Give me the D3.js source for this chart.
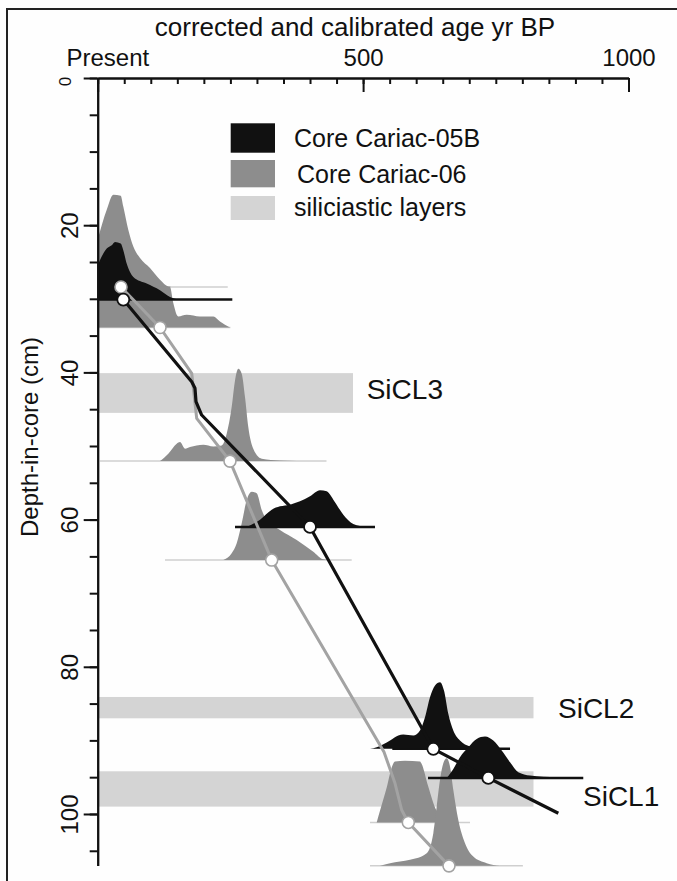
<!DOCTYPE html>
<html><head><meta charset="utf-8">
<script src="https://cdn.jsdelivr.net/npm/d3@7"></script>
<style>html,body{margin:0;padding:0;background:#fff}</style>
</head><body>
<svg id="c" width="677" height="881"></svg>
<script>
// ---------- data ----------
const ageTicksMajor = [0, 500, 1000];
const ageTickLabels = ["Present", "500", "1000"];
const ageTicksMinor = d3.range(0, 1001, 50);
const depthTicksMajor = [0, 20, 40, 60, 80, 100];
const depthTicksMinor = d3.range(0, 106, 5);

// siliciclastic layers (depth cm, age extent)
const layerNames = ["SiCL3", "SiCL2", "SiCL1"];
const layerTop = [40.1, 84.1, 94.2];
const layerBottom = [45.5, 87.0, 99.0];
const layerAgeEnd = [481, 821, 821];

// dated samples (median calibrated age, depth)
const ages05B = [48.2, 400, 632.3, 735.9];
const depths05B = [30.1, 61.0, 91.15, 95.1];
const ages06 = [43.9, 117.4, 249.2, 327.8, 585.2, 661.8];
const depths06 = [28.4, 33.9, 52.05, 65.5, 101.15, 107.05];

// age-depth models
const model05BAges = [48.2, 177.1, 183.3, 185.2, 195.9, 400, 632.3, 735.9, 867.8];
const model05BDepths = [30.1, 41.26, 42.16, 43.98, 45.79, 61.0, 91.15, 95.1, 99.9];
const model06Ages = [43.9, 117.4, 177.1, 186.5, 249.2, 327.8, 539.4, 560.1, 572.7, 585.2, 661.8];
const model06Depths = [28.4, 33.9, 40.12, 46.24, 52.05, 65.5, 91.57, 95.83, 99.46, 101.15, 107.05];

// calibrated age probability distributions [age, relative probability]
const pdf05B_1 = [[0,.343],[17,.51],[26.4,.543],[32.6,.576],[43.3,.56],[48.2,.493],[54.6,.36],[67.1,.226],[92.3,.16],[117.4,.093],[136.2,.026],[155,0]];
const pdf05B_2 = [[280.7,0],[305.8,.073],[327.8,.173],[343.4,.206],[362.3,.223],[381.1,.256],[400,.306],[418.8,.366],[431.4,.356],[443.9,.273],[462.7,.123],[481.5,.03],[506.8,0]];
const pdf05B_3 = [[513,0],[525.6,.016],[550.7,.083],[566.3,.133],[575.7,.143],[594.6,.133],[607.2,.183],[616.6,.316],[626,.516],[635.5,.633],[644.9,.666],[652.4,.583],[660.5,.35],[669.9,.183],[682.5,.083],[701.4,.023],[720.2,0]];
const pdf05B_4 = [[657.5,0],[670,.09],[682.5,.206],[698.2,.306],[714,.39],[729.7,.413],[745.3,.373],[761.1,.273],[776.8,.156],[792.4,.056],[814.5,.023],[864.7,.006],[914.3,0]];
const pdf06_1 = [[0,.473],[17,.773],[29.4,.923],[43.3,.913],[48.2,.806],[57.6,.573],[67.1,.406],[79.7,.29],[98.5,.19],[117.4,.073],[133,.006],[145.6,0]];
const pdf06_2 = [[0,.407],[136,.407],[142.4,.244],[151.8,.11],[167.7,.127],[192.7,.11],[217.8,.11],[230.4,.06],[249.2,0]];
const pdf06_3 = [[117.4,0],[133,.074],[148.8,.174],[155,.19],[164.5,.124],[173.9,.14],[198.9,.164],[217.8,.147],[233.6,.157],[243,.274],[252.4,.54],[258.7,.807],[264.9,.924],[271.3,.874],[277.5,.64],[283.7,.34],[293.1,.124],[309,.024],[343.4,.007],[405.6,0]];
const pdf06_4 = [[236.6,0],[252.4,.067],[261.9,.167],[271.3,.367],[280.7,.6],[290.1,.683],[299.5,.667],[309,.5],[318.4,.4],[343.4,.3],[374.9,.2],[406.2,.083],[425,.007],[437.6,0]];
const pdf06_5 = [[525.6,0],[531.8,.117],[544.5,.35],[553.9,.55],[560.1,.61],[578.9,.617],[607.2,.61],[610.4,.584],[622.3,.367],[638.7,.117],[663.7,.017],[682.5,0]];
const pdf06_6 = [[531.8,0],[550.7,.027],[588.4,.06],[619.8,.127],[632.3,.327],[638.7,.593],[644.9,.86],[651.1,1.027],[657.5,1.077],[663.7,.993],[669.9,.76],[679.3,.46],[692,.227],[707.6,.093],[732.8,.027],[757.9,0]];
const pdfs05B = [pdf05B_1, pdf05B_2, pdf05B_3, pdf05B_4];
const pdfs06 = [pdf06_1, pdf06_2, pdf06_3, pdf06_4, pdf06_5, pdf06_6];
// age extent of the baseline drawn under each distribution
const span05B = [[0,253.6],[258.7,522.4],[555,776.8],[622.3,914.8]];
const span06 = [[0,245],[0,250],[4,431],[126.8,478.5],[513,701.4],[513,801]];

const legendLabels = ["Core Cariac-05B", "Core Cariac-06", "siliciastic layers"];

// ---------- style ----------
const C_BLACK = "#111111", C_GRAY = "#8d8d8d", C_LAYER = "#d4d4d4", C_LINE06 = "#a3a3a3";
const FONT = "'Liberation Sans', Arial, sans-serif";

// ---------- scales ----------
const x = d3.scaleLinear().domain([0, 1000]).range([97.7, 628.5]);
const y = d3.scaleLinear().domain([0, 107]).range([78, 865.5]);
const p = d3.scaleLinear().domain([0, 1]).range([0, 100]);

const svg = d3.select("#c").style("font-family", FONT);
svg.append("rect").attr("width", 677).attr("height", 881).attr("fill", "#fefefe");
svg.append("rect").attr("x", 7).attr("y", 9).attr("width", 720).attr("height", 920)
  .attr("fill", "none").attr("stroke", "#222").attr("stroke-width", 2);

// layers
layerNames.forEach((n, i) => {
  svg.append("rect").attr("x", x(0)).attr("y", y(layerTop[i]))
    .attr("width", x(layerAgeEnd[i]) - x(0)).attr("height", y(layerBottom[i]) - y(layerTop[i]))
    .attr("fill", C_LAYER);
});
svg.append("text").attr("x", 366.7).attr("y", 399).text(layerNames[0]).attr("font-size", 28).attr("fill", "#111");
svg.append("text").attr("x", 558).attr("y", 718).text(layerNames[1]).attr("font-size", 28).attr("fill", "#111");
svg.append("text").attr("x", 583).attr("y", 805.5).text(layerNames[2]).attr("font-size", 28).attr("fill", "#111");

function drawPdf(pdf, depth, span, fill, baseColor, baseWidth) {
  const area = d3.area().x(d => x(d[0])).y0(y(depth)).y1(d => y(depth) - p(d[1])).curve(d3.curveMonotoneX);
  svg.append("line").attr("x1", x(span[0])).attr("x2", x(span[1])).attr("y1", y(depth)).attr("y2", y(depth))
    .attr("stroke", baseColor).attr("stroke-width", baseWidth);
  svg.append("path").attr("d", area(pdf)).attr("fill", fill);
}
pdfs06.forEach((pd, i) => drawPdf(pd, depths06[i], span06[i], C_GRAY, "#cfcfcf", 1.5));
pdfs05B.forEach((pd, i) => drawPdf(pd, depths05B[i], span05B[i], C_BLACK, C_BLACK, 2.5));

// age-depth lines
const line = d3.line().x(d => x(d[0])).y(d => y(d[1]));
svg.append("path").attr("d", line(d3.zip(model06Ages, model06Depths))).attr("fill", "none")
  .attr("stroke", C_LINE06).attr("stroke-width", 3).attr("stroke-linejoin", "round");
svg.append("path").attr("d", line(d3.zip(model05BAges, model05BDepths))).attr("fill", "none")
  .attr("stroke", C_BLACK).attr("stroke-width", 3.2).attr("stroke-linejoin", "round");

// sample dots
ages06.forEach((a, i) => svg.append("circle").attr("cx", x(a)).attr("cy", y(depths06[i])).attr("r", 6)
  .attr("fill", "#fff").attr("stroke", C_LINE06).attr("stroke-width", 1.6));
ages05B.forEach((a, i) => svg.append("circle").attr("cx", x(a)).attr("cy", y(depths05B[i])).attr("r", 6)
  .attr("fill", "#fff").attr("stroke", C_BLACK).attr("stroke-width", 1.8));

// ---------- axes ----------
svg.append("g").attr("transform", `translate(0,${y(0)})`)
  .call(d3.axisTop(x).tickValues(ageTicksMinor).tickSize(-6).tickSizeOuter(0).tickFormat(""));
const axTop = svg.append("g").attr("transform", `translate(0,${y(0)})`)
  .call(d3.axisTop(x).tickValues(ageTicksMajor).tickSize(-14).tickSizeOuter(0).tickPadding(12)
    .tickFormat((d, i) => ageTickLabels[i]));
axTop.selectAll("text").attr("font-size", 24).attr("fill", "#111").attr("font-family", FONT);
axTop.selectAll("text").filter((d, i) => i === 0).attr("text-anchor", "start").attr("x", 66 - x(0));

svg.append("g").attr("transform", `translate(${x(0)},0)`)
  .call(d3.axisLeft(y).tickValues(depthTicksMinor).tickSize(8).tickSizeOuter(0).tickFormat(""));
const axLeft = svg.append("g").attr("transform", `translate(${x(0)},0)`)
  .call(d3.axisLeft(y).tickValues(depthTicksMajor).tickSize(14).tickSizeOuter(0));
axLeft.selectAll("text").attr("x", null).attr("dy", null).attr("text-anchor", "middle")
  .attr("font-size", 24).attr("fill", "#111").attr("font-family", FONT)
  .attr("transform", d => d === 0 ? "translate(-27,3) rotate(-90)" : "translate(-19.7,0) rotate(-90)");
axLeft.selectAll("text").filter(d => d === 0).attr("font-size", 17);

svg.selectAll(".domain, .tick line").attr("stroke", "#111").attr("stroke-width", 2);

// titles
svg.append("text").attr("x", 355).attr("y", 36).attr("text-anchor", "middle").attr("font-size", 26)
  .attr("fill", "#111").text("corrected and calibrated age yr BP");
svg.append("text").attr("transform", "translate(38,437) rotate(-90)").attr("text-anchor", "middle")
  .attr("font-size", 24).attr("fill", "#111").text("Depth-in-core (cm)");

// legend
const legFill = [C_BLACK, C_GRAY, C_LAYER];
const legY = [123.3, 160, 196];
const legH = [29.4, 27.3, 24];
const legTextX = [294, 297, 294];
const legTextY = [147, 183, 216];
legendLabels.forEach((l, i) => {
  svg.append("rect").attr("x", 230.7).attr("y", legY[i]).attr("width", 44.3).attr("height", legH[i]).attr("fill", legFill[i]);
  svg.append("text").attr("x", legTextX[i]).attr("y", legTextY[i]).attr("font-size", 25).attr("fill", "#111").text(l);
});
</script>
</body></html>
